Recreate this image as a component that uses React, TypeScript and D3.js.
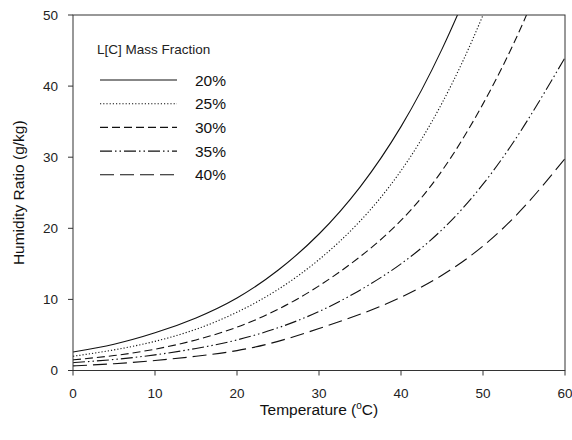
import React from "react";
import * as d3 from "d3";

const temps = [0, 5, 10, 15, 20, 25, 30, 35, 40, 45, 50, 55, 60];
const s20 = [2.6, 3.7, 5.3, 7.4, 10.2, 14.1, 19.2, 25.8, 34.3, 45.2, 58.5, 74, 94];
const s25 = [2.0, 2.9, 4.1, 5.8, 8.2, 11.4, 15.6, 21.0, 28.1, 37.6, 50.0, 66, 86];
const s30 = [1.5, 2.1, 3.0, 4.3, 6.1, 8.6, 11.9, 16.0, 21.1, 28.1, 37.5, 49.2, 63.5];
const s35 = [1.1, 1.55, 2.2, 3.1, 4.3, 6.0, 8.3, 11.3, 15.0, 19.8, 26.2, 34.4, 44.0];
const s40 = [0.65, 0.95, 1.4, 2.0, 2.8, 4.1, 5.9, 7.9, 10.3, 13.4, 17.5, 23.0, 29.8];

const seriesNames = ["20%", "25%", "30%", "35%", "40%"];
const seriesValues = [s20, s25, s30, s35, s40];
const dashes = ["none", "1.2,2", "8,4", "12,3,1.5,3,1.5,3", "14,6"];

const xTicks = [0, 10, 20, 30, 40, 50, 60];
const yTicks = [0, 10, 20, 30, 40, 50];

export default function App() {
  const W = 572, H = 440;
  const x = d3.scaleLinear().domain([0, 60]).range([73, 565]);
  const y = d3.scaleLinear().domain([0, 50]).range([370.5, 15]);
  const line = d3
    .line<[number, number]>()
    .x((d) => x(d[0]))
    .y((d) => y(d[1]))
    .curve(d3.curveNatural);
  const font = "Arial, 'Liberation Sans', sans-serif";
  return (
    <svg width={W} height={H} style={{ position: "absolute", left: 0, top: 0 }} fontFamily={font}>
      <rect x={0} y={0} width={W} height={H} fill="#fff" />
      <defs>
        <clipPath id="plotclip">
          <rect x={x(0)} y={y(50)} width={x(60) - x(0)} height={y(0) - y(50)} />
        </clipPath>
      </defs>
      <g clipPath="url(#plotclip)">
        {seriesValues.map((vals, i) => (
          <path
            key={i}
            d={line(temps.map((t, j) => [t, vals[j]]) as [number, number][]) || ""}
            fill="none"
            stroke="#111"
            strokeWidth={1.1}
            strokeDasharray={dashes[i]}
          />
        ))}
      </g>
      <rect x={x(0)} y={y(50)} width={x(60) - x(0)} height={y(0) - y(50)} fill="none" stroke="#333" strokeWidth={1} />
      {xTicks.map((t) => (
        <g key={"x" + t}>
          <line x1={x(t)} x2={x(t)} y1={y(0)} y2={y(0) + 5} stroke="#333" />
          <text x={x(t)} y={y(0) + 27} fontSize={13.5} textAnchor="middle" fill="#222">
            {t}
          </text>
        </g>
      ))}
      {yTicks.map((t) => (
        <g key={"y" + t}>
          <line x1={x(0) - 5} x2={x(0)} y1={y(t)} y2={y(t)} stroke="#333" />
          <text x={x(0) - 15} y={y(t) + 4.5} fontSize={13.5} textAnchor="end" fill="#222">
            {t}
          </text>
        </g>
      ))}
      <text x={319} y={415} fontSize={15.5} textAnchor="middle" fill="#111">
        Temperature (<tspan fontSize={10} dy={-6}>o</tspan>
        <tspan dy={6}>C)</tspan>
      </text>
      <text
        transform={`translate(24, ${y(25)}) rotate(-90)`}
        fontSize={15.5}
        textAnchor="middle"
        fill="#111"
      >
        Humidity Ratio (g/kg)
      </text>
      <text x={97} y={54} fontSize={13.5} fill="#222">
        L[C] Mass Fraction
      </text>
      {seriesNames.map((n, i) => {
        const ly = 80 + i * 23.7;
        return (
          <g key={n}>
            <line x1={100} x2={177} y1={ly} y2={ly} stroke="#111" strokeWidth={1.1} strokeDasharray={dashes[i]} />
            <text x={195} y={ly + 5.5} fontSize={15.5} fill="#111">
              {n}
            </text>
          </g>
        );
      })}
    </svg>
  );
}
